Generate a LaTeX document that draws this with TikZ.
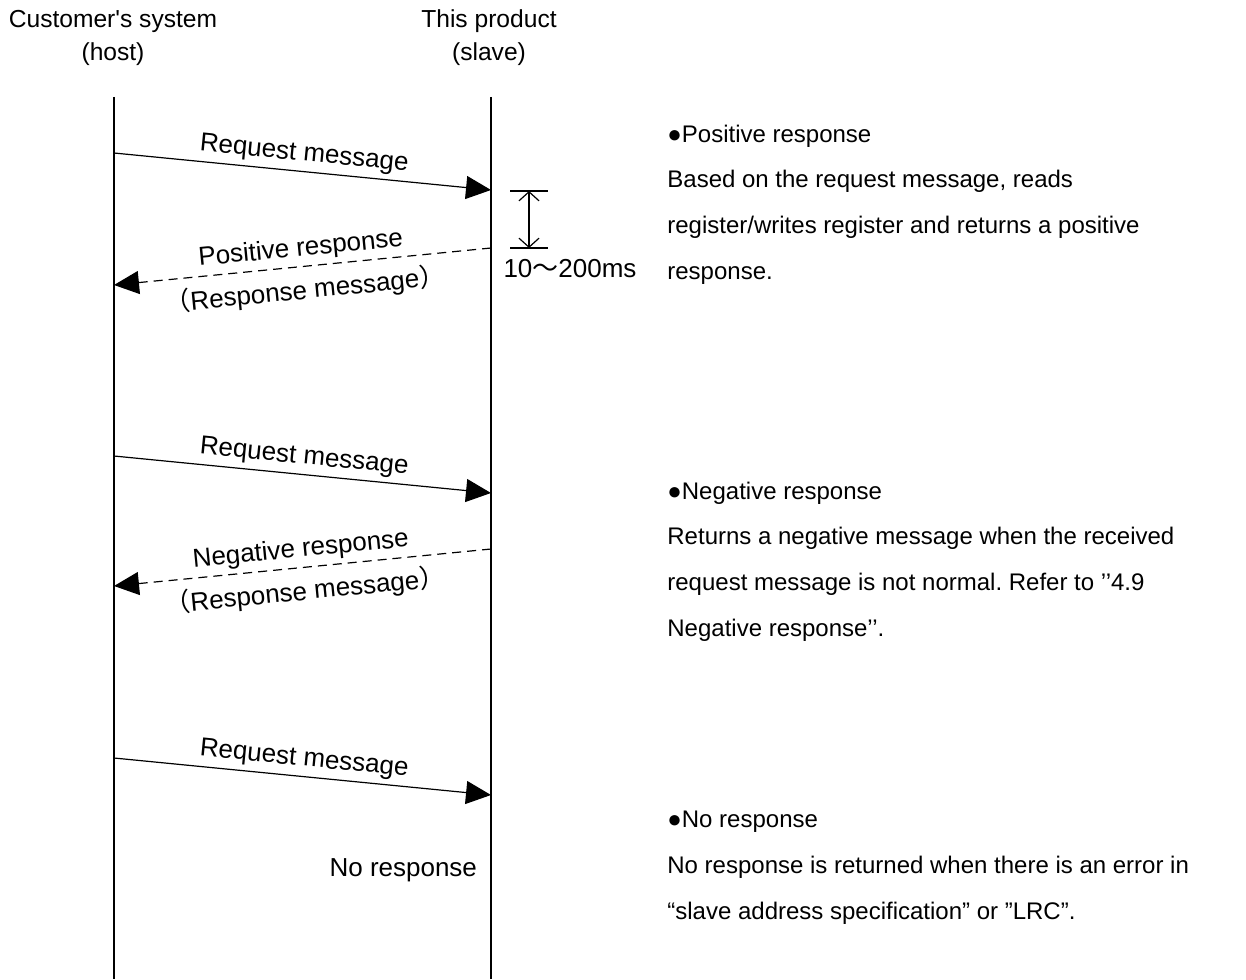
\documentclass[tikz,border=0pt]{standalone}
\usepackage{fontspec}
\setmainfont{Liberation Sans}[Ligatures = TeXOff]
\newfontfamily\cjk{Noto Sans CJK SC}
\usetikzlibrary{arrows.meta}
\tikzset{
	life/.style = {line width = 0.6pt},
	msg/.style = {line width = 0.6pt, -{Triangle[length = 12.5pt, width = 11.5pt]}},
	reply/.style = {msg, dash pattern = on 4.5pt off 3pt},
	head/.style = {align = center, font = \fontsize{12.3}{16.5}\selectfont},
	lbl/.style = {font = \fontsize{13}{15}\selectfont, inner sep = 2.3pt},
	note/.style = {font = \fontsize{12}{22.8}\selectfont, align = left, anchor = base west, inner sep = 0pt},
}
\frenchspacing

\begin{document}
\begin{tikzpicture} [x = 0.5pt, y = -0.5pt]
	\useasboundingbox (0,0) rectangle (1246,979);
	\node [head] (host) at (113,38) {Customer's system\\(host)};
	\node [head] (slave) at (489,38) {This product\\(slave)};
	\coordinate (htop) at (114,97);
	\coordinate (hbot) at (114,979);
	\coordinate (stop) at (491,97);
	\coordinate (sbot) at (491,979);
	\draw [life] (htop) -- (hbot);
	\draw [life] (stop) -- (sbot);
	% positive response
	\coordinate (req1a) at (114,153);
	\coordinate (req1b) at (491,190);
	\draw [msg] (req1a) -- node [lbl, sloped, above] {Request message} (req1b);
	\coordinate (res1a) at (491,248);
	\coordinate (res1b) at (114,285);
	\draw [reply] (res1a) -- node [lbl, sloped, above] {Positive response} node [lbl, sloped, below = 2.5pt] {{\cjk （}Response message{\cjk ）}} (res1b);
	\coordinate (tk1a) at (510,191);
	\coordinate (tk1b) at (548,191);
	\coordinate (tk2a) at (510,248);
	\coordinate (tk2b) at (548,248);
	\draw [life] (tk1a) -- (tk1b);
	\draw [life] (tk2a) -- (tk2b);
	\coordinate (tmtop) at (529,191);
	\coordinate (tmbot) at (529,248);
	\draw [life, {Straight Barb[length = 4.5pt, width = 10pt]}-{Straight Barb[length = 4.5pt, width = 10pt]}] (tmtop) -- (tmbot);
	\node [lbl] (delay) at (570,269) {10{\cjk ～}200ms};
	% negative response
	\coordinate (req2a) at (114,456);
	\coordinate (req2b) at (491,493);
	\draw [msg] (req2a) -- node [lbl, sloped, above] {Request message} (req2b);
	\coordinate (res2a) at (491,549);
	\coordinate (res2b) at (114,586);
	\draw [reply] (res2a) -- node [lbl, sloped, above] {Negative response} node [lbl, sloped, below = 2.5pt] {{\cjk （}Response message{\cjk ）}} (res2b);
	% no response
	\coordinate (req3a) at (114,758);
	\coordinate (req3b) at (491,795);
	\draw [msg] (req3a) -- node [lbl, sloped, above] {Request message} (req3b);
	\node [lbl, anchor = east] (none) at (482,870) {No response};
	% notes
	\node [note] (posnote) at (667,279) {●Positive response\\Based on the request message, reads\\register/writes register and returns a positive\\response.};
	\node [note] (negnote) at (667,636) {●Negative response\\Returns a negative message when the received\\request message is not normal. Refer to ’’4.9\\Negative response’’.};
	\node [note] (nonote) at (667,919) {●No response\\No response is returned when there is an error in\\“slave address specification” or ”LRC”.};
\end{tikzpicture}
\end{document}
